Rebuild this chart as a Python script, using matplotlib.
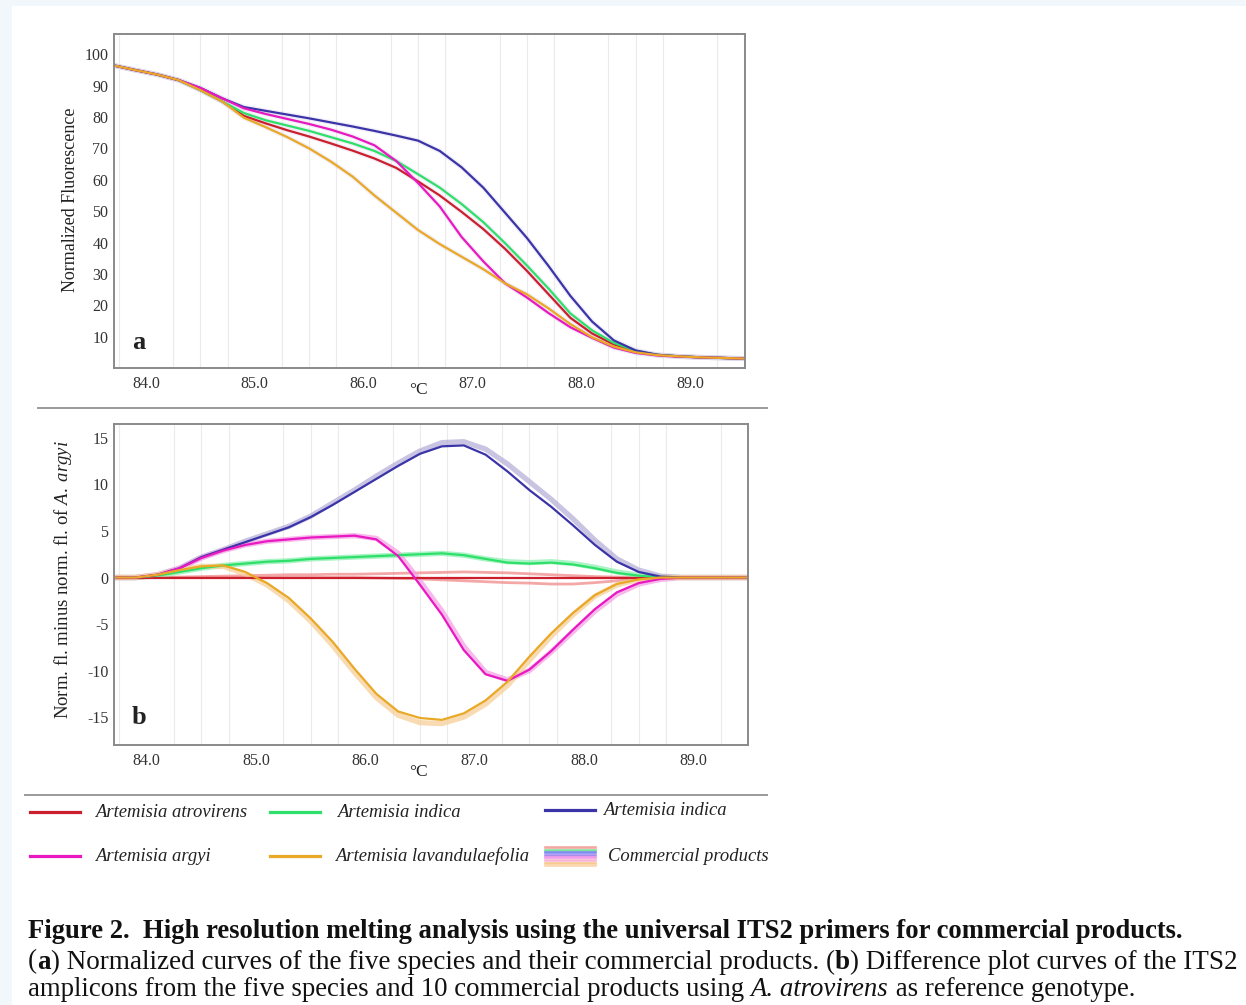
import numpy as np
import matplotlib
matplotlib.use("Agg")
import matplotlib.pyplot as plt
from matplotlib.lines import Line2D
from matplotlib.patches import Rectangle

plt.rcParams['font.family'] = ['Liberation Serif', 'DejaVu Serif']
plt.rcParams['mathtext.fontset'] = 'custom'
plt.rcParams['mathtext.rm'] = 'Liberation Serif'
plt.rcParams['mathtext.it'] = 'Liberation Serif:italic'

W, H = 1246, 1005

# ---------------- data ----------------
temps = [83.7, 83.9, 84.1, 84.3, 84.5, 84.7, 84.9, 85.1, 85.3, 85.5,
         85.7, 85.9, 86.1, 86.3, 86.5, 86.7, 86.9, 87.1, 87.3, 87.5,
         87.7, 87.9, 88.1, 88.3, 88.5, 88.7, 88.9, 89.1, 89.3, 89.5]

# panel a: normalized fluorescence
norm_atrovirens = [96.5, 95.0, 93.6, 91.8, 88.6, 85.0, 80.4, 78.0, 75.8, 73.8,
                   71.6, 69.3, 66.8, 63.8, 59.5, 55.0, 49.8, 44.3, 38.0, 31.0,
                   23.5, 16.0, 11.0, 7.5, 5.3, 4.2, 3.7, 3.4, 3.2, 3.0]
norm_indica_g = [96.5, 95.0, 93.6, 91.8, 88.6, 85.0, 81.3, 79.0, 77.3, 75.6,
                 73.6, 71.6, 69.2, 66.0, 61.8, 57.5, 52.3, 46.5, 39.8, 32.7,
                 25.3, 17.4, 12.0, 8.0, 5.5, 4.2, 3.7, 3.4, 3.2, 3.0]
norm_indica_b = [96.5, 95.0, 93.6, 91.8, 89.3, 86.0, 83.2, 82.0, 80.8, 79.6,
                 78.3, 77.0, 75.6, 74.1, 72.5, 69.2, 64.0, 57.5, 49.5, 41.5,
                 32.5, 23.0, 14.8, 8.8, 5.6, 4.2, 3.7, 3.4, 3.2, 3.0]
norm_argyi = [96.5, 95.0, 93.6, 91.8, 89.3, 86.0, 82.8, 81.0, 79.4, 77.8,
              76.0, 73.8, 71.0, 66.0, 59.0, 51.5, 41.8, 34.0, 27.0, 22.5,
              17.5, 13.0, 9.6, 6.5, 4.8, 4.0, 3.6, 3.4, 3.2, 3.0]
norm_lavand = [96.5, 95.0, 93.6, 91.8, 88.6, 85.0, 79.8, 76.8, 73.6, 70.0,
               65.8, 61.0, 55.0, 49.5, 44.0, 39.5, 35.5, 31.5, 27.0, 23.5,
               19.0, 14.0, 9.8, 6.8, 5.0, 4.1, 3.7, 3.4, 3.2, 3.0]

# panel b: difference plot
diff_atrovirens = [0.0] * 30
diff_indica_g = [0.0, 0.0, 0.2, 0.6, 1.0, 1.3, 1.5, 1.7, 1.8, 2.0,
                 2.1, 2.2, 2.3, 2.4, 2.5, 2.6, 2.4, 2.0, 1.6, 1.5,
                 1.6, 1.4, 1.0, 0.5, 0.2, 0.05, 0.0, 0.0, 0.0, 0.0]
diff_indica_b = [0.0, 0.0, 0.3, 1.0, 2.2, 3.0, 3.8, 4.6, 5.4, 6.5,
                 7.8, 9.2, 10.6, 12.0, 13.3, 14.1, 14.2, 13.2, 11.4, 9.4,
                 7.6, 5.6, 3.5, 1.7, 0.6, 0.1, 0.0, 0.0, 0.0, 0.0]
diff_argyi = [0.0, 0.0, 0.3, 1.0, 2.1, 2.9, 3.5, 3.9, 4.1, 4.3,
              4.4, 4.5, 4.1, 2.3, -0.8, -4.0, -7.8, -10.4, -11.1, -9.9,
              -7.9, -5.6, -3.4, -1.6, -0.6, -0.15, 0.0, 0.0, 0.0, 0.0]
diff_lavand = [0.0, 0.0, 0.3, 0.8, 1.2, 1.3, 0.6, -0.6, -2.2, -4.4,
               -6.9, -9.8, -12.5, -14.4, -15.1, -15.3, -14.6, -13.2, -11.2, -8.5,
               -6.0, -3.8, -1.9, -0.7, -0.2, 0.0, 0.0, 0.0, 0.0, 0.0]

# commercial products (difference plot)
prod_atro_1 = [0.0, 0.0, 0.0, 0.05, 0.1, 0.15, 0.2, 0.25, 0.3, 0.3,
               0.35, 0.35, 0.4, 0.45, 0.5, 0.55, 0.6, 0.55, 0.5, 0.4,
               0.3, 0.2, 0.1, 0.05, 0.0, 0.0, 0.0, 0.0, 0.0, 0.0]
prod_atro_2 = [0.0, 0.0, 0.0, 0.0, 0.0, 0.0, 0.0, 0.0, 0.0, 0.0,
               0.0, 0.0, -0.05, -0.1, -0.15, -0.25, -0.35, -0.45, -0.55, -0.6,
               -0.7, -0.7, -0.55, -0.35, -0.15, -0.05, 0.0, 0.0, 0.0, 0.0]
prod_indica_g = [0.0, 0.0, 0.2, 0.6, 1.0, 1.3, 1.5, 1.7, 1.8, 2.0,
                 2.1, 2.2, 2.3, 2.4, 2.5, 2.6, 2.4, 2.0, 1.7, 1.6,
                 1.7, 1.5, 1.1, 0.6, 0.25, 0.05, 0.0, 0.0, 0.0, 0.0]
prod_indica_b = [0.0, 0.0, 0.3, 1.0, 2.2, 3.0, 3.9, 4.7, 5.5, 6.6,
                 8.0, 9.4, 10.9, 12.3, 13.6, 14.5, 14.6, 13.8, 12.2, 10.3,
                 8.4, 6.3, 4.0, 2.0, 0.8, 0.15, 0.0, 0.0, 0.0, 0.0]
prod_argyi = [0.0, 0.0, 0.3, 1.0, 2.1, 2.9, 3.5, 3.9, 4.1, 4.3,
              4.4, 4.5, 4.2, 2.6, -0.4, -3.6, -7.4, -10.2, -11.0, -10.0,
              -8.0, -5.8, -3.6, -1.8, -0.7, -0.2, 0.0, 0.0, 0.0, 0.0]
prod_lavand = [0.0, 0.0, 0.3, 0.8, 1.2, 1.2, 0.4, -0.8, -2.5, -4.7,
               -7.3, -10.2, -12.9, -14.8, -15.6, -15.7, -15.0, -13.6, -11.6, -8.9,
               -6.3, -4.0, -2.0, -0.8, -0.2, 0.0, 0.0, 0.0, 0.0, 0.0]

species = ['Artemisia atrovirens', 'Artemisia indica', 'Artemisia indica',
           'Artemisia argyi', 'Artemisia lavandulaefolia']
colors = ['#cc1f2e', '#2ee06a', '#3a34a8', '#e819c0', '#e9a825']
prod_colors = ['#f08a8a', '#f08a8a', '#8ef0b0', '#b8b0d8', '#f5a0e6', '#f6cf98']
prod_widths = [2.0, 2.0, 3.8, 3.8, 3.8, 3.8]

norm_series = [norm_atrovirens, norm_indica_g, norm_indica_b, norm_argyi, norm_lavand]
diff_series = [diff_atrovirens, diff_indica_g, diff_indica_b, diff_argyi, diff_lavand]
prod_series = [prod_atro_1, prod_atro_2, prod_indica_g, prod_indica_b, prod_argyi, prod_lavand]

xticks = [84.0, 85.0, 86.0, 87.0, 88.0, 89.0]
yticks_a = [10, 20, 30, 40, 50, 60, 70, 80, 90, 100]
yticks_b = [-15, -10, -5, 0, 5, 10, 15]

# ---------------- figure ----------------
fig = plt.figure(figsize=(W / 100, H / 100), dpi=100)
fig.patch.set_facecolor('white')


def fx(x):
    return x / W


def fy(y):
    return 1 - y / H


# light page border
fig.patches.append(Rectangle((0, 0), fx(12), 1, transform=fig.transFigure,
                             facecolor='#f2f7fb', edgecolor='none', zorder=0))
fig.patches.append(Rectangle((0, fy(6)), 1, 6 / H, transform=fig.transFigure,
                             facecolor='#f2f7fb', edgecolor='none', zorder=0))

ax_a = fig.add_axes([fx(114), fy(368), fx(745 - 114), (368 - 34) / H])
ax_b = fig.add_axes([fx(114), fy(745), fx(748 - 114), (745 - 424) / H])


def style_axes(ax, yticks, hgrid):
    for s in ax.spines.values():
        s.set_color('#8a8a8a')
        s.set_linewidth(1.4)
    ax.set_xticks(xticks)
    ax.set_xticklabels([f"{t:.1f}" for t in xticks])
    ax.set_yticks(yticks)
    ax.set_yticklabels([str(t) for t in yticks])
    ax.tick_params(axis='both', length=0, labelsize=11.5, labelcolor='#333333')
    ax.tick_params(axis='x', pad=6)
    ax.tick_params(axis='y', pad=4)
    ax.set_xticks(np.arange(83.75, 89.6, 0.25), minor=True)
    ax.set_yticks(hgrid, minor=True)
    ax.tick_params(which='minor', length=0)
    ax.grid(True, which='minor', color='#ebebeb', linewidth=0.8)
    ax.set_axisbelow(True)


# panel a
for ser in norm_series:
    ax_a.plot(temps, ser, color='#d8d0e8', lw=3.5, alpha=0.35, solid_capstyle='round')
for ser, c in zip(norm_series, colors):
    ax_a.plot(temps, ser, color=c, lw=1.6)
ax_a.set_xlim(83.706, 89.505)
ax_a.set_ylim(2.86, 106.5)
style_axes(ax_a, yticks_a, np.arange(0, 106, 10))
ax_a.set_ylabel('Normalized Fluorescence', fontsize=13, color='#222222')
ax_a.yaxis.set_label_coords(-0.055, 0.503)
ax_a.text(0.04, 0.075, 'a', transform=ax_a.transAxes, fontsize=19,
          fontweight='bold', ha='center', va='center', color='#222222')

# panel b
for ser, c, w in zip(prod_series, prod_colors, prod_widths):
    ax_b.plot(temps, ser, color=c, lw=w, alpha=0.75, solid_capstyle='round')
for ser, c in zip(diff_series, colors):
    ax_b.plot(temps, ser, color=c, lw=1.6)
ax_b.set_xlim(83.70, 89.454)
ax_b.set_ylim(-18.0, 16.5)
style_axes(ax_b, yticks_b, np.arange(-15, 16, 5))
ax_b.set_ylabel('Norm. fl. minus norm. fl. of $\\mathit{A.\\ argyi}$',
                fontsize=13.5, color='#222222')
ax_b.yaxis.set_label_coords(-0.063, 0.514)
ax_b.text(0.039, 0.087, 'b', transform=ax_b.transAxes, fontsize=19,
          fontweight='bold', ha='center', va='center', color='#222222')

fig.text(fx(418), fy(390), '°C', fontsize=12.5, ha='center', va='center', color='#222222')
fig.text(fx(418), fy(772), '°C', fontsize=12.5, ha='center', va='center', color='#222222')

# separator lines
fig.add_artist(Line2D([fx(38), fx(767)], [fy(408), fy(408)], color='#9a9a9a', lw=1.4))
fig.add_artist(Line2D([fx(25), fx(767)], [fy(795), fy(795)], color='#9a9a9a', lw=1.4))

# legend
legend_items = [
    (30, 812, 95, colors[0], species[0]),
    (270, 812, 337, colors[1], species[1]),
    (545, 810, 603, colors[2], species[2]),
    (30, 856, 95, colors[3], species[3]),
    (270, 856, 335, colors[4], species[4]),
]
for x0, y0, tx, c, lab in legend_items:
    fig.add_artist(Line2D([fx(x0), fx(x0 + 50)], [fy(y0), fy(y0)], color=c, lw=2.3))
    fig.text(fx(tx), fy(y0), lab, fontsize=13.4, fontstyle='italic',
             ha='left', va='center', color='#222222')

stripe_colors = ['#f4a6a0', '#7be39a', '#7f8cf0', '#a98cf0', '#f39be6',
                 '#f7b6d6', '#f8c98f', '#fbd7b0']
for i, sc in enumerate(stripe_colors):
    yy = 847 + i * 2.6
    fig.add_artist(Line2D([fx(545), fx(595)], [fy(yy), fy(yy)], color=sc, lw=1.9))
fig.text(fx(608), fy(856), 'Commercial products', fontsize=13.4, fontstyle='italic',
         ha='left', va='center', color='#222222')

# caption
renderer = fig.canvas.get_renderer()


def draw_runs(x_px, y_px, runs, target_width, fs0=16):
    def total(fs):
        w = 0
        for txt, kw in runs:
            t = fig.text(0, 0, txt, fontsize=fs, **kw)
            w += t.get_window_extent(renderer).width
            t.remove()
        return w
    fs = fs0 * target_width / total(fs0)
    x = x_px
    for txt, kw in runs:
        t = fig.text(fx(x), fy(y_px), txt, fontsize=fs, va='center', ha='left',
                     color='#111111', **kw)
        x += t.get_window_extent(renderer).width


draw_runs(28, 931, [('Figure 2.  High resolution melting analysis using the universal ITS2 '
                     'primers for commercial products.', dict(fontweight='bold'))], 1160)
draw_runs(28, 962, [('(', {}), ('a', dict(fontweight='bold')),
                    (') Normalized curves of the five species and their commercial products. (', {}),
                    ('b', dict(fontweight='bold')),
                    (') Difference plot curves of the ITS2', {})], 1212)
draw_runs(28, 989, [('amplicons from the five species and 10 commercial products using ', {}),
                    ('A. atrovirens', dict(fontstyle='italic')),
                    (' as reference genotype.', {})], 1110)

fig.savefig('out.png', dpi=100, facecolor='white')
